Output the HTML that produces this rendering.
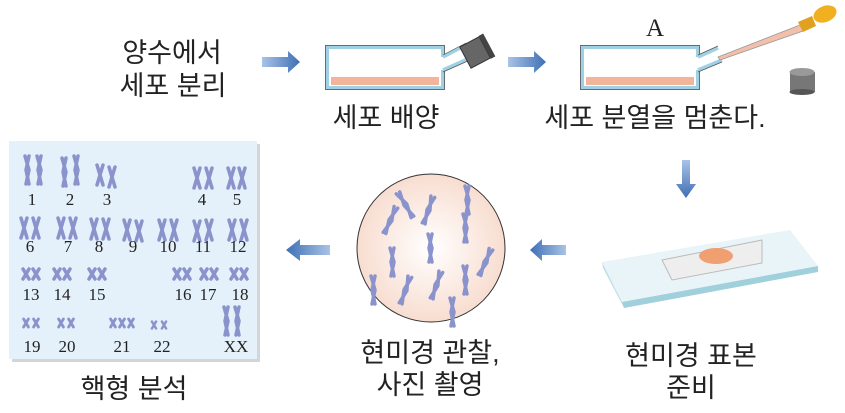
<!DOCTYPE html>
<html><head><meta charset="utf-8"><style>
html,body{margin:0;padding:0;background:#fff}
svg{display:block}
.k{font-family:"Liberation Sans","Noto Sans CJK KR",sans-serif;font-size:27px;fill:#222}
.n{font-family:"Liberation Serif","DejaVu Serif",serif;font-size:17px;fill:#222;text-anchor:middle}
</style></head><body>
<svg width="845" height="413" viewBox="0 0 845 413" xmlns="http://www.w3.org/2000/svg">
<defs>
<linearGradient id="ar" x1="0" x2="1"><stop offset="0" stop-color="#a9c3e6"/><stop offset="1" stop-color="#3f6fb5"/></linearGradient>
<linearGradient id="arl" x1="1" x2="0"><stop offset="0" stop-color="#a9c3e6"/><stop offset="1" stop-color="#3f6fb5"/></linearGradient>
<linearGradient id="ard" x1="0" y1="0" x2="0" y2="1"><stop offset="0" stop-color="#a9c3e6"/><stop offset="1" stop-color="#3f6fb5"/></linearGradient>
<radialGradient id="cir" cx="0.5" cy="0.5" r="0.5"><stop offset="0" stop-color="#fff" /><stop offset="1" stop-color="#f8ddd0"/></radialGradient>
<g id="ch"><path d="M-3,-10 L3,10 M3,-10 L-3,10" stroke="#8a93cb" stroke-width="3.5" stroke-linecap="round" fill="none"/></g>
<g id="cl"><path d="M-2,-14 L2,0 L-1,14 M2,-14 L-1,0 L2,14" stroke="#8a93cb" stroke-width="3.5" stroke-linecap="round" fill="none"/></g>
<g id="cs"><path d="M-3,-5 L3,5 M3,-5 L-3,5" stroke="#8a93cb" stroke-width="3.5" stroke-linecap="round" fill="none"/></g>
</defs>

<!-- texts -->
<text class="k" x="172" y="62" text-anchor="middle">양수에서</text>
<text class="k" x="173" y="95" text-anchor="middle">세포 분리</text>
<text class="k" x="386" y="127" text-anchor="middle">세포 배양</text>
<text class="k" x="655" y="127" text-anchor="middle">세포 분열을 멈춘다.</text>
<text x="655" y="36" font-family="Liberation Serif,serif" font-size="25" fill="#222" text-anchor="middle">A</text>
<text class="k" x="430" y="362" text-anchor="middle">현미경 관찰,</text>
<text class="k" x="430" y="394" text-anchor="middle">사진 촬영</text>
<text class="k" x="691" y="365" text-anchor="middle">현미경 표본</text>
<text class="k" x="691" y="397" text-anchor="middle">준비</text>
<text class="k" x="134" y="398" text-anchor="middle">핵형 분석</text>

<!-- arrows -->
<path d="M262,57 H288 V51 L300,62 L288,73 V67 H262 Z" fill="url(#ar)"/>
<path d="M508,57 H534 V51 L546,62 L534,73 V67 H508 Z" fill="url(#ar)"/>
<path d="M682,160 V184 H676 L686,198 L696,184 H690 V160 Z" fill="url(#ard)"/>
<path d="M566,245 H542 V239 L530,250 L542,261 V255 H566 Z" fill="url(#arl)"/>
<path d="M330,245 H300 V239 L286,250 L300,261 V255 H330 Z" fill="url(#arl)"/>

<!-- flask1 -->
<rect x="327" y="47" width="116" height="41" fill="#fff" stroke="#9fd0e4" stroke-width="4"/>
<rect x="325.5" y="45.5" width="119" height="44" fill="none" stroke="#555" stroke-width="0.8"/>
<rect x="440" y="57" width="8" height="13" fill="#fff"/>
<path d="M443,57 L466,45 M443,70 L470,58" stroke="#9fd0e4" stroke-width="3.5" fill="none"/>
<path d="M443,55 L466,43 M443,72 L470,60" stroke="#555" stroke-width="0.7" fill="none"/>
<rect x="331" y="77" width="108" height="8" fill="#f2b49a"/>
<g transform="translate(476,52) rotate(-28)"><rect x="-12" y="-12" width="22" height="24" fill="#666" stroke="#333"/><rect x="10" y="-13" width="5" height="26" fill="#444"/></g>
<!-- flask2 -->
<rect x="582" y="47" width="116" height="41" fill="#fff" stroke="#9fd0e4" stroke-width="4"/>
<rect x="580.5" y="45.5" width="119" height="44" fill="none" stroke="#555" stroke-width="0.8"/>
<rect x="695" y="57" width="8" height="13" fill="#fff"/>
<path d="M698,57 L718,48 M698,70 L722,60" stroke="#9fd0e4" stroke-width="3.5" fill="none"/>
<path d="M698,55 L718,46 M698,72 L722,62" stroke="#555" stroke-width="0.7" fill="none"/>
<rect x="586" y="77" width="108" height="8" fill="#f2b49a"/>
<path d="M718,57 L800,25 L803,31 L720,60 Z" fill="#f2c0aa" stroke="#999" stroke-width="0.8"/>
<path d="M798,22 L812,16 L816,26 L803,32 Z" fill="#e0a020"/>
<ellipse cx="825" cy="14" rx="12" ry="8" fill="#f0b020" transform="rotate(-22 825 14)"/>
<rect x="790" y="72" width="25" height="20" fill="#777"/><ellipse cx="802" cy="92" rx="12.5" ry="3" fill="#555"/><ellipse cx="802" cy="72" rx="12.5" ry="4" fill="#999"/>

<!-- slide -->
<path d="M602,262 L790,230 L818,266 L622,302 Z" fill="#e8f4f8"/>
<path d="M622,302 L818,266 L818,272 L624,308 Z" fill="#9fd0dc"/>
<path d="M602,262 L622,302 L624,308 L603,268 Z" fill="#bfe0e8"/>
<path d="M662,260 L762,240 L762,263 L672,280 Z" fill="#eeeeee" stroke="#bbb" stroke-width="1"/>
<ellipse cx="716" cy="256" rx="17" ry="8" fill="#f0a070"/>

<!-- circle -->
<circle cx="431" cy="248" r="74" fill="url(#cir)" stroke="#333" stroke-width="1"/>
<use href="#cl" transform="translate(405,205) rotate(-30)"/>
<use href="#cl" transform="translate(428,210) rotate(20)"/>
<use href="#cl" transform="translate(467,200)"/>
<use href="#cl" transform="translate(390,220) rotate(25)"/>
<use href="#cl" transform="translate(465,228)"/>
<use href="#cl" transform="translate(430,248)"/>
<use href="#cl" transform="translate(392,262)"/>
<use href="#cl" transform="translate(485,262) rotate(25)"/>
<use href="#cl" transform="translate(373,290)"/>
<use href="#cl" transform="translate(405,290) rotate(20)"/>
<use href="#cl" transform="translate(436,285) rotate(20)"/>
<use href="#cl" transform="translate(465,280)"/>
<use href="#cl" transform="translate(452,312)"/>

<!-- karyotype panel -->
<rect x="12" y="144" width="248" height="218" fill="#d5d5d5"/>
<rect x="9" y="141" width="248" height="218" fill="#e4f1fa"/>
<g>
<use href="#cl" transform="translate(27,170)"/><use href="#cl" transform="translate(39,170)"/>
<use href="#cl" transform="translate(64,172)"/><use href="#cl" transform="translate(76,170)"/>
<use href="#ch" transform="translate(100,175)"/><use href="#ch" transform="translate(112,177)"/>
<use href="#ch" transform="translate(197,178)"/><use href="#ch" transform="translate(209,178)"/>
<use href="#ch" transform="translate(231,178)"/><use href="#ch" transform="translate(242,178)"/>
<use href="#ch" transform="translate(24,228)"/><use href="#ch" transform="translate(36,228)"/>
<use href="#ch" transform="translate(61,228)"/><use href="#ch" transform="translate(73,228)"/>
<use href="#ch" transform="translate(94,229)"/><use href="#ch" transform="translate(106,229)"/>
<use href="#ch" transform="translate(127,230)"/><use href="#ch" transform="translate(139,231)"/>
<use href="#ch" transform="translate(162,230)"/><use href="#ch" transform="translate(174,230)"/>
<use href="#ch" transform="translate(197,231)"/><use href="#ch" transform="translate(209,230)"/>
<use href="#ch" transform="translate(232,230)"/><use href="#ch" transform="translate(244,230)"/>
<use href="#cs" transform="translate(26,274)"/><use href="#cs" transform="translate(36,274)"/>
<use href="#cs" transform="translate(57,274)"/><use href="#cs" transform="translate(67,274)"/>
<use href="#cs" transform="translate(92,274)"/><use href="#cs" transform="translate(102,274)"/>
<use href="#cs" transform="translate(177,274)"/><use href="#cs" transform="translate(187,274)"/>
<use href="#cs" transform="translate(204,274)"/><use href="#cs" transform="translate(214,274)"/>
<use href="#cs" transform="translate(234,274)"/><use href="#cs" transform="translate(244,274)"/>
<use href="#cs" transform="translate(26,323) scale(0.8)"/><use href="#cs" transform="translate(36,323) scale(0.8)"/>
<use href="#cs" transform="translate(61,323) scale(0.8)"/><use href="#cs" transform="translate(71,323) scale(0.8)"/>
<use href="#cs" transform="translate(113,323) scale(0.8)"/><use href="#cs" transform="translate(122,323) scale(0.8)"/><use href="#cs" transform="translate(131,323) scale(0.8)"/>
<use href="#cs" transform="translate(154,325) scale(0.7)"/><use href="#cs" transform="translate(164,325) scale(0.7)"/>
<use href="#cl" transform="translate(226,321)"/><use href="#cl" transform="translate(237,321)"/>
</g>
<g class="n">
<text x="32" y="205">1</text><text x="70" y="205">2</text><text x="107" y="205">3</text><text x="202" y="205">4</text><text x="237" y="205">5</text>
<text x="30" y="252">6</text><text x="68" y="252">7</text><text x="99" y="252">8</text><text x="133" y="252">9</text><text x="168" y="252">10</text><text x="203" y="252">11</text><text x="238" y="252">12</text>
<text x="31" y="300">13</text><text x="62" y="300">14</text><text x="97" y="300">15</text><text x="183" y="300">16</text><text x="208" y="300">17</text><text x="240" y="300">18</text>
<text x="32" y="352">19</text><text x="67" y="352">20</text><text x="122" y="352">21</text><text x="162" y="352">22</text><text x="236" y="352">XX</text>
</g>
</svg>
</body></html>
